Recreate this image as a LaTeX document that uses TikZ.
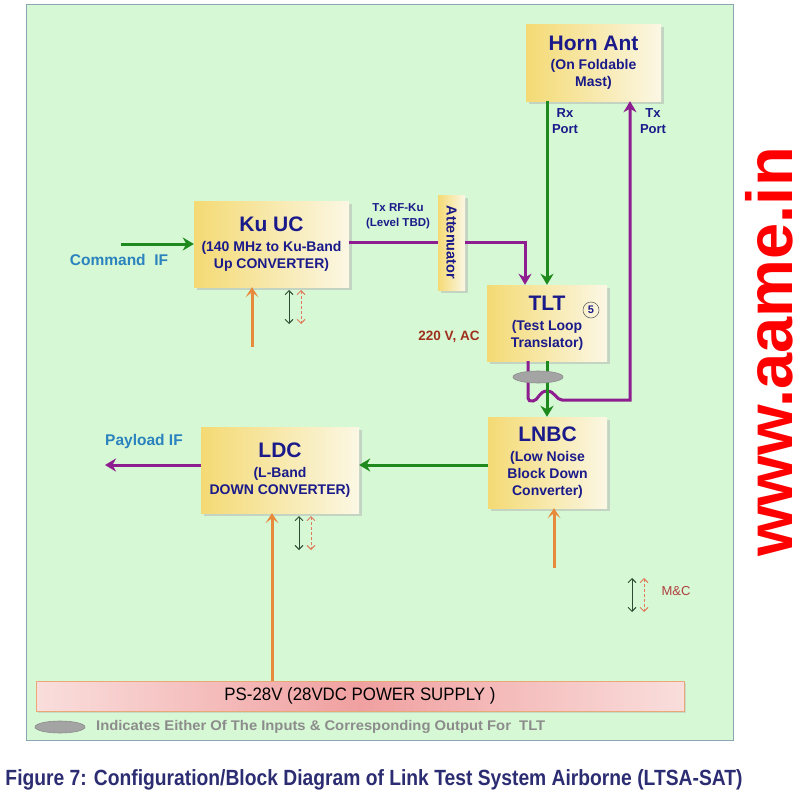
\documentclass[tikz,border=0pt]{standalone}
\usepackage{fontspec}
\setmainfont{Liberation Sans}
\usetikzlibrary{arrows.meta,shadows,shapes.geometric}

\definecolor{panel}{HTML}{D6F8D4}
\definecolor{panelborder}{HTML}{8AA6B4}
\definecolor{navy}{HTML}{1A1A8A}
\definecolor{boxL}{HTML}{F4DA74}
\definecolor{boxR}{HTML}{FBF7E4}
\definecolor{gline}{HTML}{1E8A1E}
\definecolor{pline}{HTML}{8E1E90}
\definecolor{oline}{HTML}{E88A3C}
\definecolor{lblue}{HTML}{2A82BE}
\definecolor{dred}{HTML}{A0301E}
\definecolor{mcred}{HTML}{E07A5C}
\definecolor{mctext}{HTML}{B04040}
\definecolor{mcblk}{HTML}{2E4A32}
\definecolor{psL}{HTML}{F9DEDC}
\definecolor{psM}{HTML}{F0A0A0}
\definecolor{psborder}{HTML}{E8A878}
\definecolor{capnavy}{HTML}{2C2C72}
\definecolor{legray}{HTML}{8C8C8C}
\definecolor{ellgray}{HTML}{A4A4A4}

\newcommand\fsz[2]{\fontsize{#1}{#2}\selectfont}

\begin{document}
\begin{tikzpicture}[x=1pt,y=-1pt,
  blockbox/.style={rectangle, inner sep=0pt, align=center, text=navy,
    font=\fsz{14}{17}\bfseries, left color=boxL, right color=boxR,
    drop shadow={shadow xshift=2.5pt, shadow yshift=-2.5pt, fill=black!30, opacity=0.5}},
  gar/.style={draw=gline, line width=3pt, -{Stealth[length=11pt,width=13pt,inset=3.5pt]}},
  par/.style={draw=pline, line width=3pt, -{Stealth[length=11pt,width=13pt,inset=3.5pt]}},
  pln/.style={draw=pline, line width=3pt},
  oar/.style={draw=oline, line width=3pt, -{Stealth[length=10pt,width=13pt,inset=5pt]}},
  mcb/.style={draw=mcblk, line width=0.9pt, {Straight Barb[length=4pt,width=8pt]}-{Straight Barb[length=4pt,width=8pt]}},
  mcr/.style={draw=mcred, line width=0.9pt, dash pattern=on 3pt off 2pt, {Straight Barb[length=4pt,width=8pt]}-{Straight Barb[length=4pt,width=8pt]}},
  lbl/.style={inner sep=0pt, align=center},
  tagell/.style={ellipse, fill=ellgray, draw=black!45, line width=0.6pt, minimum width=50pt, minimum height=12pt, inner sep=0pt}
]
\useasboundingbox (0,0) rectangle (798,800);
\fill[white] (0,0) rectangle (798,800);
% panel
\draw[fill=panel, draw=panelborder, line width=0.8pt] (26,4) rectangle (733,740);

% blocks
\node[blockbox, minimum width=135pt, minimum height=76pt] (horn) at (593.5,63)
  {{\fsz{21}{21}Horn Ant}\\[2pt](On Foldable\\Mast)};
\node[blockbox, minimum width=155pt, minimum height=86pt] (kuuc) at (271.5,244)
  {{\fsz{21}{21}Ku UC}\\[3pt](140 MHz to Ku-Band\\Up CONVERTER)};
\node[blockbox, minimum width=27pt, minimum height=95pt, font=\fsz{14.5}{14.5}\bfseries] (att) at (451.5,242.5)
  {\rotatebox{-90}{Attenuator}};
\node[blockbox, minimum width=120pt, minimum height=76pt] (tlt) at (547,323)
  {{\fsz{21}{21}TLT}\\[3pt](Test Loop\\Translator)};
\node[blockbox, minimum width=119pt, minimum height=91pt] (lnbc) at (547.5,462.5)
  {{\fsz{21}{21}LNBC}\\[3pt](Low Noise\\Block Down\\Converter)};
\node[blockbox, minimum width=158pt, minimum height=86pt] (ldc) at (280,470)
  {{\fsz{21}{21}LDC}\\[3pt](L-Band\\DOWN CONVERTER)};
\node[rectangle, minimum width=648pt, minimum height=30pt, inner sep=0pt,
  draw=psborder, line width=0.8pt, left color=psL, right color=psL, middle color=psM,
  drop shadow={shadow xshift=2pt, shadow yshift=-2pt, fill=black!30, opacity=0.4},
  font=\fsz{18}{18}] (ps) at (360,696)
  {\resizebox{271pt}{\height}{PS-28V (28VDC POWER SUPPLY )}};

\node[circle, draw=black!60, line width=0.6pt, minimum size=16pt, inner sep=0pt,
  text=navy, font=\fsz{11}{11}\bfseries] (five) at (591,310) {5};

% coordinates
\coordinate (cmdin) at (121,244);
\coordinate (pj) at (525,242.5);
\coordinate (txx) at (528,0);
\coordinate (txr) at (630,0);
\coordinate (gy) at (0,465);
\coordinate (payout) at (105,465);
\coordinate (kupwr) at (252,347);
\coordinate (ldcx) at (272,0);
\coordinate (lnbcpwr) at (554,568);

% connectors
\draw[gar] (cmdin) -- (kuuc.west);
\draw[pln] (kuuc.east |- att.west) -- (att.west);
\draw[par] (att.east) -- (pj) -- (tlt.north -| pj);
\draw[gar] (horn.south -| tlt.north) -- (tlt.north);
\draw[par] (tlt.south -| txx) -- (528,398) .. controls (528,401) and (530,401) .. (533,401)
   .. controls (538,401) and (539,391) .. (547,391)
   .. controls (555,391) and (556,400) .. (562,400) -- (630,400) -- (horn.south -| txr);
\draw[gar] (tlt.south) -- (tlt.south |- lnbc.north);
\draw[gar] (lnbc.west |- gy) -- (ldc.east |- gy);
\draw[par] (ldc.west |- gy) -- (payout);
\draw[oar] (kupwr) -- (kuuc.south -| kupwr);
\draw[oar] (ps.north -| ldcx) -- (ldc.south -| ldcx);
\draw[oar] (lnbcpwr) -- (lnbc.south -| lnbcpwr);

% M&C arrows
\coordinate (kb1) at (289,290); \coordinate (kb2) at (289,324);
\coordinate (kr1) at (301,290); \coordinate (kr2) at (301,324);
\draw[mcb] (kb1) -- (kb2);
\draw[mcr] (kr1) -- (kr2);
\coordinate (lb1) at (299,516); \coordinate (lb2) at (299,550);
\coordinate (lr1) at (311,516); \coordinate (lr2) at (311,550);
\draw[mcb] (lb1) -- (lb2);
\draw[mcr] (lr1) -- (lr2);
\coordinate (mb1) at (632,578); \coordinate (mb2) at (632,612);
\coordinate (mr1) at (644,578); \coordinate (mr2) at (644,612);
\draw[mcb] (mb1) -- (mb2);
\draw[mcr] (mr1) -- (mr2);

% TLT selection ellipse
\node[tagell] (tltell) at (538,377) {};

% labels
\node[lbl, text=lblue, font=\fsz{15.5}{15.5}\bfseries] (cmdlbl) at (119,260) {Command~~IF};
\node[lbl, text=lblue, font=\fsz{15.5}{15.5}\bfseries] (paylbl) at (144,441) {Payload IF};
\node[lbl, text=navy, font=\fsz{11.5}{15}\bfseries] (txrf) at (398,216) {Tx RF-Ku\\(Level TBD)};
\node[lbl, text=navy, font=\fsz{13}{16}\bfseries] (rxport) at (565,121) {Rx\\Port};
\node[lbl, text=navy, font=\fsz{13}{16}\bfseries] (txport) at (653,121) {Tx\\Port};
\node[lbl, text=dred, font=\fsz{13.5}{13.5}\bfseries] (acv) at (449,337) {220 V, AC};
\node[lbl, text=mctext, font=\fsz{13}{13}] (mclbl) at (676,591) {M\&C};

% legend
\node[tagell] (legell) at (60,727) {};
\node[lbl, anchor=west, text=legray, font=\fsz{14}{14}\bfseries] (legtxt) at (96,727)
  {\resizebox{449pt}{\height}{Indicates Either Of The Inputs \& Corresponding Output For~~TLT}};

% caption
\node[lbl, text=capnavy, font=\fsz{22}{22}\bfseries] (caption) at (374,780)
  {\resizebox{737pt}{\height}{Figure 7: Configuration/Block Diagram of Link Test System Airborne (LTSA-SAT)}};

% watermark
\node[lbl, rotate=90, anchor=base, text=red, font=\fsz{65}{65}\bfseries] (wm) at (792,352) {www.aame.in};
\end{tikzpicture}
\end{document}
